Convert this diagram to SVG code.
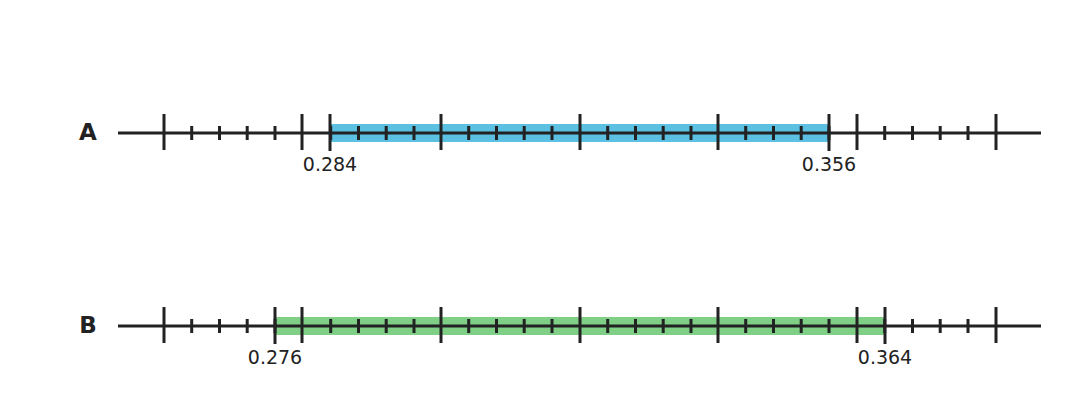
<svg xmlns="http://www.w3.org/2000/svg" width="1075" height="420" viewBox="0 0 1075 420">
<style>
.ax{stroke:#222;stroke-width:3;fill:none}
.lbl{font-family:"DejaVu Sans",sans-serif;font-size:19px;fill:#222;text-anchor:middle}
.nm{font-family:"DejaVu Sans",sans-serif;font-size:23px;font-weight:bold;fill:#222;text-anchor:middle}
</style>
<defs>
<g id="axis">
<path class="ax" d="M118 0H1041M164 -19V17M302 -19V17M441 -19V17M580 -19V17M718 -19V17M857 -19V17M996 -19V17M191.7 -7V7M219.5 -7V7M247.2 -7V7M275 -7V7M330.7 -7V7M358.5 -7V7M386.2 -7V7M414 -7V7M468.7 -7V7M496.5 -7V7M524.2 -7V7M552 -7V7M607.7 -7V7M635.5 -7V7M663.2 -7V7M691 -7V7M745.7 -7V7M773.5 -7V7M801.2 -7V7M829 -7V7M884.7 -7V7M912.5 -7V7M940.2 -7V7M968 -7V7"/>
</g>
</defs>
<g id="A">
<rect x="330" y="124" width="499" height="18" fill="#5bc0e2"/>
<use href="#axis" y="133"/>
<path class="ax" d="M330 114V151M829 114V151"/>
<text class="nm" x="88" y="140">A</text>
<text class="lbl" x="330" y="171">0.284</text>
<text class="lbl" x="829" y="171">0.356</text>
</g>
<g id="B">
<rect x="275" y="317" width="610" height="18" fill="#7fcf87"/>
<use href="#axis" y="326"/>
<path class="ax" d="M275 307V344M885 307V344"/>
<text class="nm" x="88" y="333">B</text>
<text class="lbl" x="275" y="364">0.276</text>
<text class="lbl" x="885" y="364">0.364</text>
</g>
</svg>
